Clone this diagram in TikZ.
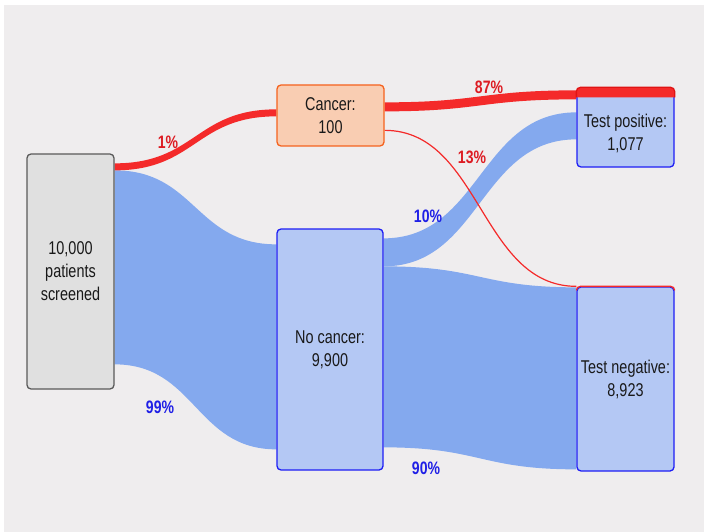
\documentclass[tikz,border=0pt]{standalone}
\usepackage{fontspec}
\setmainfont{Liberation Sans}[FakeStretch=0.78]
\usetikzlibrary{calc,backgrounds}

\definecolor{pagegray}{HTML}{EFEDEE}
\definecolor{srcfill}{HTML}{E0E0E0}
\definecolor{srcline}{HTML}{5A5A5A}
\definecolor{cancerfill}{HTML}{F9CDB2}
\definecolor{cancerline}{HTML}{F5621E}
\definecolor{nodeblue}{HTML}{B4C8F4}
\definecolor{lineblue}{HTML}{1E1EF5}
\definecolor{flowblue}{HTML}{84A9EE}
\definecolor{flowred}{HTML}{F42A2A}
\definecolor{barred}{HTML}{E01414}
\definecolor{txtred}{HTML}{DD1B22}
\definecolor{txtblue}{HTML}{1F1FE6}

\tikzstyle{box} = [rectangle, draw, rounded corners=4pt, line width=1.3pt,
    align=center, inner sep=0pt, text=black!90, font=\fontsize{18.5}{23}\selectfont]
\tikzstyle{boxtext} = [align=center, text=black!90, font=\fontsize{18.5}{23}\selectfont]
\tikzstyle{pct} = [font=\fontsize{18}{22}\selectfont\bfseries]

% band between two pairs of named coordinates
\newcommand{\flowband}[5]{%
  \coordinate (mid) at ($(#2)!.5!(#4)$);
  \fill[#1] (#2) .. controls (mid |- #2) and (mid |- #4) .. (#4)
    -- (#5) .. controls (mid |- #5) and (mid |- #3) .. (#3) -- cycle;}

\begin{document}
\begin{tikzpicture}[x=1pt,y=-1pt]
  \useasboundingbox (0,0) rectangle (704,532);

  \node[box, fill=srcfill, draw=srcline, minimum width=87pt, minimum height=235pt]
      (src) at (70.5,271.5) {10,000\\patients\\screened};
  \node[box, fill=cancerfill, draw=cancerline, minimum width=107pt, minimum height=61pt]
      (cancer) at (330.5,115.5) {Cancer:\\100};
  \node[box, fill=nodeblue, draw=lineblue, minimum width=106pt, minimum height=241pt]
      (nocancer) at (330,349.5) {No cancer:\\9,900};
  \node[box, fill=nodeblue, draw=lineblue, minimum width=97pt, minimum height=79pt]
      (testpos) at (625.5,127.5) {};
  \node[box, fill=nodeblue, draw=lineblue, minimum width=97pt, minimum height=184pt]
      (testneg) at (625.5,379) {Test negative:\\8,923};

  \filldraw[fill=flowred, draw=barred, line width=1.3pt, rounded corners=4pt]
      ([yshift=-10pt]testpos.north west) -- (testpos.north west)
      -- (testpos.north east) -- ([yshift=-10pt]testpos.north east);
  \node[boxtext] (testpostext) at ([yshift=-6pt]testpos.center) {Test positive:\\1,077};
  \draw[flowred, line width=1.3pt, rounded corners=4pt]
      ([yshift=-4pt]testneg.north west) -- (testneg.north west)
      -- (testneg.north east) -- ([yshift=-4pt]testneg.north east);

  \begin{scope}[on background layer]
    \fill[pagegray] (4,5) rectangle (704,532);

    \coordinate (s-r1) at ([yshift=-10pt]src.north east);
    \coordinate (s-r2) at ([yshift=-17pt]src.north east);
    \coordinate (s-r3) at ([yshift=-211pt]src.north east);
    \coordinate (c-l1) at ([yshift=-25pt]cancer.north west);
    \coordinate (c-l2) at ([yshift=-32pt]cancer.north west);
    \coordinate (c-r1) at ([yshift=-18pt]cancer.north east);
    \coordinate (c-r2) at ([yshift=-27pt]cancer.north east);
    \coordinate (c-r3) at ([yshift=-46pt]cancer.north east);
    \coordinate (n-l1) at ([yshift=-16pt]nocancer.north west);
    \coordinate (n-l2) at ([yshift=-221pt]nocancer.north west);
    \coordinate (n-r1) at ([yshift=-10pt]nocancer.north east);
    \coordinate (n-r2) at ([yshift=-38pt]nocancer.north east);
    \coordinate (n-r3) at ([yshift=-219pt]nocancer.north east);
    \coordinate (tp-l1) at ([yshift=-3pt]testpos.north west);
    \coordinate (tp-l2) at ([yshift=-12pt]testpos.north west);
    \coordinate (tp-l3) at ([yshift=-25pt]testpos.north west);
    \coordinate (tp-l4) at ([yshift=-52pt]testpos.north west);
    \coordinate (tn-l0) at (testneg.north west);
    \coordinate (tn-l1) at ([yshift=-1pt]testneg.north west);
    \coordinate (tn-l2) at ([yshift=-183pt]testneg.north west);

    \flowband{flowblue}{s-r2}{s-r3}{n-l1}{n-l2}
    \flowband{flowblue}{n-r1}{n-r2}{tp-l3}{tp-l4}
    \flowband{flowblue}{n-r2}{n-r3}{tn-l1}{tn-l2}
    \flowband{flowred}{s-r1}{s-r2}{c-l1}{c-l2}
    \flowband{flowred}{c-r1}{c-r2}{tp-l1}{tp-l2}

    \coordinate (mid) at ($(c-r3)!.5!(tn-l0)$);
    \draw[flowred, line width=1.2pt] (c-r3) .. controls (mid |- c-r3) and (mid |- tn-l0) .. (tn-l0);
  \end{scope}

  \node[pct, text=txtred] (p1) at (168,142) {1\%};
  \node[pct, text=txtred] (p87) at (489,87) {87\%};
  \node[pct, text=txtred] (p13) at (472,157) {13\%};
  \node[pct, text=txtblue] (p10) at (428,216) {10\%};
  \node[pct, text=txtblue] (p99) at (160,407) {99\%};
  \node[pct, text=txtblue] (p90) at (426,468) {90\%};
\end{tikzpicture}
\end{document}
